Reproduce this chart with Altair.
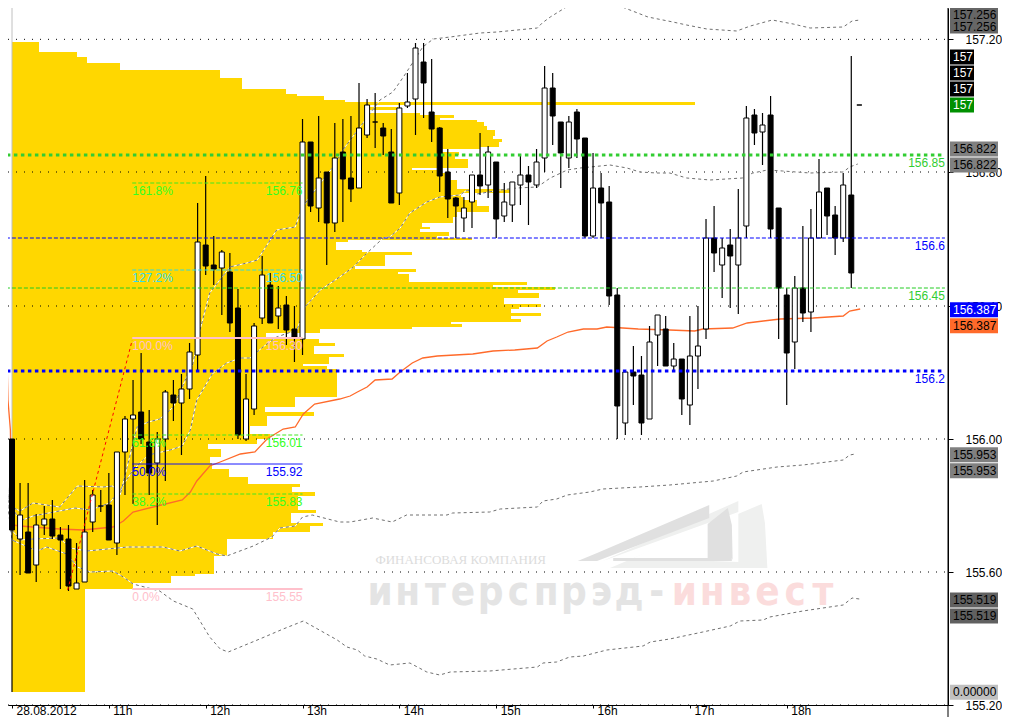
import json
import altair as alt
import pandas as pd

# ---- candles (5-minute bars, index 0 = 10:00) ----
opens = [156.000,155.700,155.721,155.622,155.742,155.760,155.712,155.700,155.550,155.571,155.751,155.799,155.802,155.688,155.961,156.060,156.081,155.991,155.928,156.000,156.132,156.108,156.150,156.252,156.582,156.522,156.513,156.501,156.393,156.000,156.090,156.363,156.462,156.369,156.402,156.330,156.300,156.891,156.693,156.801,156.648,156.861,156.783,156.753,156.912,156.951,156.933,156.861,156.738,156.999,157.020,157.131,156.981,156.933,156.801,156.723,156.663,156.711,156.792,156.762,156.831,156.669,156.702,156.762,156.792,156.762,156.843,157.053,156.951,156.843,156.981,156.903,156.609,156.753,156.711,156.432,156.048,156.201,156.192,156.060,156.312,156.330,156.219,156.240,156.102,156.249,156.330,156.603,156.522,156.582,156.522,156.639,156.972,156.921,156.972,156.693,156.432,156.291,156.453,156.381,156.603,156.753,156.672,156.603,156.732,157.002]
highs = [156.000,155.868,155.868,155.775,155.799,155.817,155.736,155.742,155.688,155.877,155.847,155.847,155.898,155.961,156.069,156.177,156.258,156.087,156.021,156.147,156.177,156.195,156.288,156.708,156.789,156.609,156.567,156.558,156.450,156.195,156.348,156.549,156.498,156.459,156.429,156.399,156.960,156.891,156.969,156.801,156.948,156.960,156.969,157.068,157.020,157.038,156.948,156.930,157.008,157.098,157.188,157.188,157.140,156.936,156.870,156.726,156.726,156.792,156.918,156.879,156.831,156.768,156.771,156.849,156.819,156.870,157.119,157.098,156.951,156.969,156.990,156.903,156.858,156.798,156.759,156.453,156.201,156.279,156.249,156.339,156.372,156.369,156.288,156.240,156.369,156.399,156.660,156.699,156.603,156.630,156.750,156.999,156.990,156.978,157.029,156.693,156.453,156.489,156.639,156.690,156.840,156.753,156.699,156.798,157.149,157.002]
lows = [155.241,155.592,155.598,155.571,155.712,155.700,155.550,155.544,155.550,155.571,155.721,155.781,155.697,155.652,155.832,155.805,155.985,155.832,155.742,155.874,156.054,155.952,156.120,156.204,156.492,156.462,156.372,156.321,156.000,155.994,156.072,156.345,156.348,156.330,156.282,156.231,156.252,156.681,156.651,156.522,156.621,156.651,156.711,156.753,156.903,156.873,156.852,156.708,156.702,156.993,156.912,156.963,156.891,156.741,156.663,156.603,156.621,156.633,156.732,156.723,156.603,156.651,156.651,156.702,156.642,156.753,156.801,156.882,156.753,156.813,156.843,156.603,156.603,156.603,156.402,156.000,156.012,156.102,156.012,156.060,156.219,156.219,156.207,156.072,156.042,156.150,156.300,156.501,156.423,156.393,156.375,156.603,156.882,156.822,156.603,156.300,156.102,156.210,156.351,156.321,156.603,156.612,156.552,156.591,156.453,157.002]
closes = [155.727,155.772,155.598,155.742,155.760,155.709,155.697,155.559,155.568,155.721,155.832,155.799,155.697,155.961,156.060,156.072,156.000,155.898,156.000,156.141,156.108,156.150,156.261,156.591,156.519,156.510,156.561,156.348,156.012,156.120,156.339,156.492,156.348,156.393,156.327,156.306,156.891,156.699,156.783,156.648,156.843,156.780,156.750,156.933,157.002,156.951,156.909,156.708,156.993,157.011,157.173,157.068,156.930,156.789,156.720,156.699,156.693,156.792,156.759,156.861,156.660,156.711,156.771,156.792,156.771,156.831,157.053,156.969,156.858,156.951,156.900,156.609,156.753,156.708,156.429,156.099,156.201,156.189,156.048,156.291,156.372,156.219,156.240,156.120,156.249,156.279,156.603,156.558,156.573,156.549,156.603,156.963,156.918,156.942,156.630,156.453,156.258,156.453,156.378,156.603,156.741,156.669,156.603,156.762,156.498,157.002]

# ---- volume profile: price edges, volume per level ----
profile_edges = [157.191,157.161,157.146,157.128,157.107,157.083,157.050,157.035,157.029,157.017,157.011,157.002,156.996,156.987,156.978,156.972,156.963,156.957,156.951,156.939,156.927,156.909,156.900,156.891,156.876,156.870,156.861,156.852,156.840,156.819,156.813,156.807,156.798,156.777,156.750,156.738,156.726,156.717,156.699,156.681,156.666,156.648,156.636,156.630,156.621,156.609,156.603,156.597,156.591,156.567,156.561,156.552,156.519,156.510,156.501,156.495,156.471,156.462,156.456,156.447,156.438,156.423,156.405,156.396,156.390,156.378,156.369,156.360,156.351,156.345,156.336,156.330,156.318,156.300,156.288,156.279,156.255,156.246,156.225,156.219,156.210,156.126,156.096,156.081,156.069,156.039,156.015,156.000,155.985,155.970,155.946,155.928,155.910,155.886,155.865,155.856,155.841,155.829,155.787,155.778,155.748,155.739,155.721,155.700,155.649,155.595,155.589,155.568,155.550,155.241]
profile_volume = [27,65,75,108,208,230,274,285,312,333,683,355,386,355,408,442,428,465,472,475,483,481,490,487,468,428,447,443,456,456,400,425,433,445,498,449,451,465,477,445,441,410,418,408,437,425,460,336,324,350,400,373,343,404,386,397,515,481,543,506,527,492,529,507,499,529,499,509,439,450,400,308,254,307,323,302,332,317,291,315,325,283,253,302,255,238,258,245,196,209,198,200,217,236,288,280,303,286,304,279,311,298,261,215,202,183,159,121,73]

# ---- indicator lines: (bar index, price) ----
vwap = [(-1.5,156.639),(-1.1,156.639),(-1.0,156.582),(-0.9,156.447),(-0.7,156.327),(-0.5,156.117),(-0.2,156.027),(-0.1,155.883),(0,155.742),(1.0,155.739),(2.6,155.736),(5.9,155.730),(8.8,155.727),(12.5,155.736),(13.8,155.754),(15.0,155.781),(18.0,155.799),(21.1,155.817),(22.1,155.841),(22.9,155.874),(24.5,155.919),(25.8,155.931),(28.3,155.955),(30.1,155.961),(31.6,156.000),(33.6,156.030),(35.1,156.036),(36.1,156.075),(37.5,156.105),(40.6,156.120),(41.9,156.129),(42.8,156.141),(44.0,156.156),(45.0,156.177),(47.1,156.180),(48.1,156.201),(49.6,156.228),(50.9,156.243),(52.7,156.249),(57.1,156.255),(59.6,156.264),(62.3,156.267),(65.1,156.273),(66.3,156.294),(67.5,156.306),(68.9,156.321),(70.8,156.330),(72.5,156.330),(73.7,156.336),(75.7,156.333),(77.6,156.330),(81.5,156.327),(84.6,156.324),(85.6,156.330),(89.3,156.333),(91.1,156.348),(93.1,156.354),(95.2,156.360),(99.3,156.363),(103.0,156.369),(103.8,156.384),(105.1,156.390)]
upper2 = [(-1.5,157.248),(-1.1,157.248),(-1.1,156.942),(-0.9,156.327),(-0.6,155.877),(-0.5,155.802),(1.0,155.784),(2.6,155.808),(5.9,155.796),(8.1,155.859),(11.3,155.856),(12.5,155.859),(13.4,155.832),(15.5,156.036),(16.9,156.051),(18.3,156.060),(20.0,156.096),(21.8,156.195),(22.4,156.225),(23.3,156.327),(24.5,156.438),(27.0,156.516),(29.1,156.528),(30.4,156.537),(32.8,156.627),(35.1,156.636),(35.7,156.678),(36.6,156.717),(39.8,156.816),(41.0,156.867),(43.5,156.948),(45.6,157.017),(47.2,157.041),(48.5,157.086),(49.7,157.131),(50.9,157.176),(52.2,157.200),(54.3,157.206),(58.0,157.218),(60.1,157.221),(65.1,157.233),(65.7,157.248),(66.7,157.266),(69.1,157.302),(70.8,157.308),(73.7,157.308),(75.3,157.299),(78.8,157.266),(81.9,157.251),(83.6,157.242),(86.1,157.230),(89.8,157.224),(91.5,157.239),(94.2,157.257),(96.8,157.245),(98.9,157.233),(103.0,157.236),(104.1,157.254),(105.1,157.257)]
upper1 = [(-0.9,156.117),(-0.5,155.817),(1.0,155.754),(2.6,155.769),(7.8,155.793),(9.7,155.787),(12.1,155.808),(13.4,155.847),(15.0,155.907),(16.9,155.952),(19.6,155.967),(21.1,155.979),(22.1,156.027),(22.9,156.117),(24.8,156.195),(26.6,156.228),(28.3,156.243),(29.5,156.243),(31.1,156.276),(32.8,156.306),(35.3,156.327),(36.3,156.396),(38.2,156.447),(40.6,156.486),(42.3,156.516),(44.0,156.558),(46.0,156.603),(46.8,156.606),(48.1,156.633),(49.3,156.678),(51.4,156.711),(53.0,156.726),(55.5,156.732),(56.4,156.747),(57.6,156.735),(60.5,156.747),(62.6,156.753),(65.1,156.756),(66.7,156.783),(68.8,156.807),(70.4,156.813),(72.9,156.819),(74.1,156.822),(76.2,156.813),(77.8,156.801),(79.9,156.798),(81.5,156.798),(83.6,156.783),(86.5,156.777),(90.5,156.783),(91.8,156.798),(93.6,156.807),(95.5,156.804),(98.9,156.798),(103.0,156.801),(103.8,156.816),(104.8,156.825)]
lower1 = [(0,155.727),(1.0,155.697),(2.6,155.700),(5.9,155.703),(7.2,155.673),(9.3,155.664),(14.3,155.676),(18.7,155.676),(20.8,155.664),(22.9,155.679),(25.4,155.655),(26.6,155.649),(29.9,155.679),(32.2,155.706),(33.2,155.733),(35.1,155.739),(36.0,155.766),(37.2,155.772),(40.6,155.751),(41.9,155.751),(44.7,155.763),(47.1,155.751),(48.9,155.772),(53.9,155.772),(54.6,155.778),(59.2,155.781),(60.5,155.790),(65.1,155.796),(65.8,155.814),(67.5,155.820),(68.8,155.832),(71.6,155.841),(73.2,155.850),(77.8,155.856),(81.5,155.862),(86.9,155.874),(89.8,155.889),(90.6,155.901),(94.8,155.916),(98.0,155.922),(103.0,155.937),(103.8,155.952),(104.5,155.955)]
lower2 = [(-1.5,156.024),(-1.1,156.024),(-0.6,155.925),(-0.5,155.796),(0,155.697),(3.1,155.664),(4.3,155.676),(6.8,155.655),(8.1,155.616),(9.7,155.601),(12.5,155.604),(13.8,155.586),(15.0,155.565),(18.3,155.544),(20.0,155.514),(22.4,155.490),(24.5,155.406),(25.8,155.370),(26.8,155.361),(30.7,155.400),(33.6,155.430),(36.1,155.454),(40.3,155.397),(41.5,155.376),(42.8,155.367),(43.7,155.349),(45.2,155.340),(46.8,155.322),(49.3,155.328),(51.4,155.301),(53.0,155.292),(54.3,155.301),(59.2,155.304),(65.1,155.316),(65.8,155.328),(67.5,155.331),(69.1,155.346),(70.8,155.349),(73.7,155.367),(78.2,155.379),(79.1,155.391),(81.5,155.400),(85.6,155.421),(89.0,155.439),(90.2,155.454),(93.1,155.457),(93.9,155.466),(98.0,155.484),(103.0,155.502),(104.1,155.523),(105.0,155.520)]

# ---- fibonacci retracement ----
fib_pct = ["161.8%", "127.2%", "100.0%", "61.8%", "50.0%", "38.2%", "0.0%"]
fib_label = ["156.76", "156.50", "156.30", "156.01", "155.92", "155.83", "155.55"]
fib_price = [156.768, 156.507, 156.303, 156.012, 155.925, 155.835, 155.550]
fib_start, fib_end = 14.9, 36.0
fib_trend = [(6.9, 155.547), (14.9, 156.297)]

# ---- horizontal levels ----
level_price = [156.852, 156.603, 156.453, 156.204]
level_label = ["156.85", "156.6", "156.45", "156.2"]
level_start, level_end = -1.5, 115.6

# ---- axes ----
price_ticks = [157.199, 156.801, 156.399, 156.000, 155.601, 155.202]
time_ticks = [0, 12, 24, 36, 48, 60, 72, 84, 96]
time_labels = ["28.08.2012", "11h", "12h", "13h", "14h", "15h", "16h", "17h", "18h"]

# ---- price tags on the right ----
tag_text = ["157.256","157.256","156.822","156.822","156.387","156.387","155.953","155.953","155.519","155.519","0.00000","157","157","157","157"]
tag_price = [157.257,157.257,156.822,156.822,156.388,156.388,155.953,155.953,155.517,155.517,155.240,157.002,157.002,157.002,157.002]
tag_row = [0.34,-0.44,1,0,0,-1,0,-1,0,-1,0,3,2,1,0]
tag_h = [13,13,15,15,15,15,15,15,15,15,15,15,15,15,15]
tag_bg = ["#666666","#666666","#808080","#808080","#0000ff","#ff6a2a","#808080","#808080","#606060","#606060","#c0c0c0","#000000","#000000","#000000","#009000"]
tag_fg = ["#000000","#000000","#000000","#000000","#ffffff","#000000","#000000","#000000","#000000","#000000","#000000","#ffffff","#ffffff","#ffffff","#ffffff"]

# ---- watermark ----
wm_company = "ФИНАНСОВАЯ КОМПАНИЯ"
wm_grey = list("интерспрэд-")
wm_pink = list("инвест")

FONT = "Liberation Sans"
BAR_PX = 8.07
PX_UNIT = 0.003
x_scale = alt.Scale(domain=[-4 / BAR_PX, 936 / BAR_PX], nice=False, zero=False, padding=0)
y_scale = alt.Scale(domain=[155.202, 157.293], nice=False, zero=False, padding=0)

axis_x = alt.Axis(values=time_ticks, labelExpr=json.dumps(time_labels) + "[datum.value/12]",
                  tickSize=3, labelAlign="left", labelBaseline="middle", labelPadding=2, labelOffset=4,
                  labelFont=FONT, labelFontSize=12, labelColor="#000", tickColor="#000", domainColor="#000",
                  grid=False, labelFlush=False, labelOverlap=False, title=None)
axis_y = alt.Axis(orient="right", values=price_ticks, labelExpr="format(round(datum.value*100)/100,'.2f')",
                  tickSize=5, labelPadding=12,
                  labelAlign="left", labelBaseline="middle", labelFont=FONT, labelFontSize=12,
                  labelColor="#000", tickColor="#000", domainColor="#000", grid=False, labelOverlap=False, title=None)


def X(f="x"):
    return alt.X(f"{f}:Q", scale=x_scale, axis=axis_x)


def Y(f="y", **k):
    return alt.Y(f"{f}:Q", scale=y_scale, axis=axis_y, **k)


X2 = alt.X2("x2:Q")
Y2 = alt.Y2("y2:Q")

layers = []

# ---- watermark ----
layers.append(
    alt.Chart(pd.DataFrame({"x": [55.6], "y": [155.637], "t": [wm_company]})).mark_text(
        font="Liberation Serif", fontSize=13, color="#dcdcdc", baseline="middle", align="center"
    ).encode(x=X(), y=Y(), text="t:N")
)
letters = pd.DataFrame(
    {"x": [45.6 + 3.43 * k for k in range(len(wm_grey) + len(wm_pink))],
     "y": 155.502,
     "t": wm_grey + wm_pink,
     "c": ["#e4e4e4"] * len(wm_grey) + ["#fbdcdc"] * len(wm_pink)}
)
layers.append(
    alt.Chart(letters).mark_text(font="Liberation Sans Narrow, DejaVu Sans Condensed", fontSize=40, fontWeight="bold",
                                 baseline="alphabetic", align="center").encode(
        x=X(), y=Y(), text="t:N", color=alt.Color("c:N", scale=None))
)
logo = [
    ("#eff0ef", [(74.1, 155.613, 155.613), (92.9, 155.805, 155.613), (93.3, 155.748, 155.613), (93.6, 155.613, 155.613)]),
    ("#ffffff", [(77.0, 155.643, 155.643), (90.0, 155.784, 155.631)]),
    ("#eff0ef", [(73.2, 155.634, 155.634), (90.0, 155.814, 155.781)]),
    ("#e0e0e0", [(70.1, 155.634, 155.634), (72.5, 155.658, 155.634), (86.4, 155.802, 155.763)]),
    ("#e0e0e0", [(86.2, 155.745, 155.643), (88.7, 155.793, 155.643), (89.2, 155.742, 155.643), (89.3, 155.637, 155.637)]),
    ("#e0e0e0", [(74.5, 155.643, 155.634), (89.2, 155.643, 155.634)]),
]
for col, pts in logo:
    layers.append(
        alt.Chart(pd.DataFrame(pts, columns=["x", "y", "y2"])).mark_area(color=col, interpolate="linear").encode(
            x=X(), y=Y(stack=None), y2=Y2)
    )

# ---- volume profile ----
profile = pd.DataFrame(
    {"y": profile_edges[:-1], "y2": profile_edges[1:],
     "x": 0.0, "x2": [v / BAR_PX for v in profile_volume]}
)
layers.append(alt.Chart(profile).mark_rect(color="#ffd700").encode(x=X(), x2=X2, y=Y(), y2=Y2))

# ---- grid ----
layers.append(
    alt.Chart(pd.DataFrame({"y": price_ticks})).mark_rule(color="#000000", strokeWidth=1, strokeDash=[1, 7]).encode(
        y=Y(), x=alt.value(0), x2=alt.value(940))
)
layers.append(
    alt.Chart(pd.DataFrame({"x": [0.0], "y": [157.293], "y2": [156.0]})).mark_rule(color="#c0c0c0", strokeWidth=1).encode(
        x=X(), y=Y(), y2=Y2)
)

# ---- bands and vwap ----
bands = pd.concat(
    [pd.DataFrame(s, columns=["x", "y"]).assign(s=n, idx=range(len(s)))
     for n, s in [("u2", upper2), ("u1", upper1), ("l1", lower1), ("l2", lower2)]]
)
layers.append(alt.Chart(bands).mark_line(color="#ffffff", strokeWidth=1).encode(
    x=X(), y=Y(), detail="s:N", order="idx:Q"))
layers.append(alt.Chart(bands).mark_line(color="#707070", strokeWidth=1, strokeDash=[3, 3]).encode(
    x=X(), y=Y(), detail="s:N", order="idx:Q"))
vw = pd.DataFrame(vwap, columns=["x", "y"])
layers.append(alt.Chart(vw).mark_line(color="#ff6a2a", strokeWidth=1.3).encode(x=X(), y=Y()))

# ---- candles ----
candles = pd.DataFrame(
    {"x": range(len(opens)), "o": opens, "h": highs, "l": lows, "c": closes}
)
candles["fill"] = ["#000000" if c < o else "#ffffff" for o, c in zip(opens, closes)]
layers.append(
    alt.Chart(candles).mark_rule(color="#000000", strokeWidth=1.2).encode(
        x=X(), y=Y("h"), y2=alt.Y2("l:Q"))
)
layers.append(
    alt.Chart(candles).mark_bar(size=5, stroke="#000000", strokeWidth=1).encode(
        x=X(), y=Y("o", stack=None), y2=alt.Y2("c:Q"),
        color=alt.Color("fill:N", scale=None))
)

# ---- red fib trend ----
layers.append(
    alt.Chart(pd.DataFrame(fib_trend, columns=["x", "y"])).mark_line(color="#ff0000", strokeWidth=1, strokeDash=[3, 3]).encode(
        x=X(), y=Y())
)

# ---- fib levels ----
fib_style = [
    ("#40e820", [4, 2], 1, "#33ff22"),
    ("#30d8e0", [4, 2], 1, "#33ddee"),
    ("#ffc0cb", [1, 0], 2, "#ffc0cb"),
    ("#40e820", [4, 2], 1, "#33ff22"),
    ("#0000ff", [1, 0], 1, "#0000ff"),
    ("#40e820", [4, 2], 1, "#33ff22"),
    ("#ffc0cb", [1, 0], 2, "#ffc0cb"),
]
for pct, lab, pr, (lc, dash, sw, tc) in zip(fib_pct, fib_label, fib_price, fib_style):
    d = pd.DataFrame({"x": [fib_start], "x2": [fib_end], "y": [pr], "a": [pct], "b": [lab]})
    base = alt.Chart(d)
    layers.append(base.mark_rule(color=lc, strokeWidth=sw, strokeDash=dash).encode(x=X(), x2=X2, y=Y()))
    layers.append(base.mark_text(font=FONT, fontSize=12, color=tc, align="left", baseline="middle", dy=8).encode(
        x=X(), y=Y(), text="a:N"))
    layers.append(base.mark_text(font=FONT, fontSize=12, color=tc, align="right", baseline="middle", dy=8).encode(
        x=X("x2"), y=Y(), text="b:N"))

# ---- horizontal levels ----
level_style = [
    ("#32cd32", [3.5, 3.5], 3, "#32cd32"),
    ("#0000ff", [4, 2], 1, "#0000ff"),
    ("#22cc22", [4, 2], 1, "#32cd32"),
    ("#0000ff", [3.5, 3.5], 3, "#0000ff"),
]
for pr, lab, (lc, dash, sw, tc) in zip(level_price, level_label, level_style):
    d = pd.DataFrame({"x": [level_start], "x2": [level_end], "y": [pr], "t": [lab]})
    base = alt.Chart(d)
    layers.append(base.mark_rule(color=lc, strokeWidth=sw, strokeDash=dash).encode(x=X(), x2=X2, y=Y()))
    layers.append(base.mark_text(font=FONT, fontSize=12, color=tc, align="right", baseline="middle", dy=8).encode(
        x=X("x2"), y=Y(), text="t:N"))

# ---- right border and tags ----
layers.append(
    alt.Chart(pd.DataFrame({"a": [0]})).mark_rule(color="#000000", strokeWidth=1).encode(
        x=alt.value(940), y=alt.value(0), y2=alt.value(709))
)
tags = pd.DataFrame({"t": tag_text, "p": tag_price, "r": tag_row, "bg": tag_bg, "fg": tag_fg, "h": tag_h})
tags["y"] = tags.p + tags.r * 16 * PX_UNIT
tags["top"] = tags.y + tags.h / 2 * PX_UNIT
tags["bot"] = tags.y - tags.h / 2 * PX_UNIT
for sub, right in ((tags[tags.t != "157"], 990), (tags[tags.t == "157"], 966)):
    layers.append(
        alt.Chart(sub).mark_rect().encode(
            x=alt.value(942), x2=alt.value(right), y=Y("top"), y2=alt.Y2("bot:Q"),
            color=alt.Color("bg:N", scale=None))
    )
layers.append(
    alt.Chart(tags).mark_text(font=FONT, fontSize=12, align="left", baseline="middle").encode(
        x=alt.value(945), y=Y(), text="t:N", color=alt.Color("fg:N", scale=None))
)

chart = (
    alt.layer(*layers)
    .properties(width=940, height=697, padding={"left": 0, "top": 0, "right": 54, "bottom": 12},
                autosize=alt.AutoSizeParams(type="none"), background="#ffffff")
    .configure_view(stroke=None)
)
chart.save("out.html", embed_options={"renderer": "svg", "actions": False})
